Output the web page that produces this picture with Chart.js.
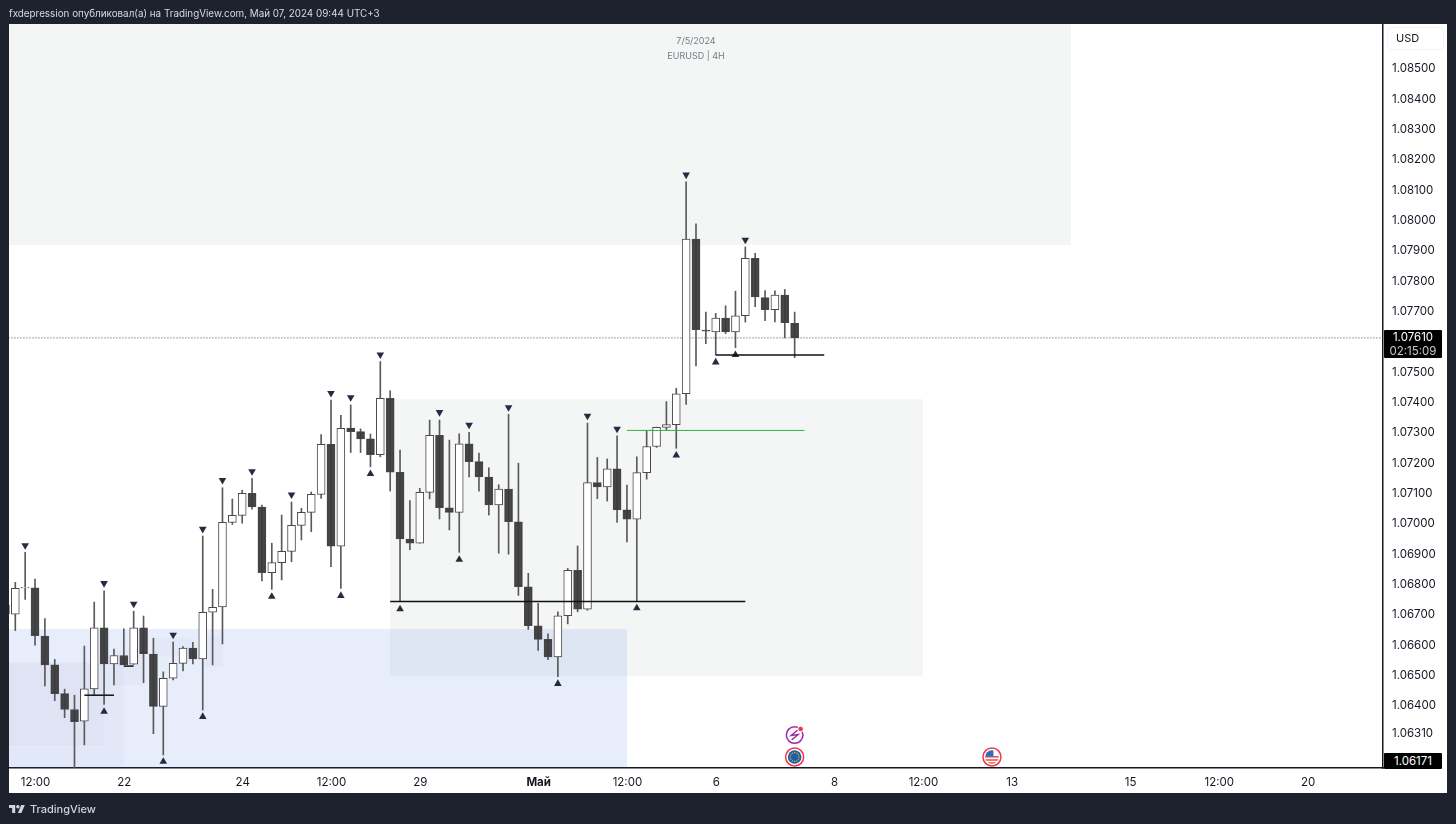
<!DOCTYPE html>
<html>
<head>
<meta charset="utf-8">
<title>EURUSD 4H</title>
<script src="https://cdn.jsdelivr.net/npm/chart.js@4"></script>
<style>
  html, body { margin: 0; padding: 0; background: #1e222d; overflow: hidden; }
  body { width: 1456px; height: 824px; position: relative; font-family: Inter, "Noto Sans", sans-serif; }
  canvas { position: absolute; left: 0; top: 0; }
  .txt { position: absolute; white-space: nowrap; }
  #header { left: 9px; top: 6px; font-size: 9.85px; line-height: 14px; color: #d8dae0; }
  .note { left: 596px; width: 200px; text-align: center; font-size: 9px; line-height: 12px; color: #787b86; }
  #usd { left: 1387px; top: 27px; width: 57px; height: 23px; box-sizing: border-box; padding-left: 8px; border: 1px solid #f0f3fa; border-radius: 4px; font-size: 11px; line-height: 21px; color: #131722; }
  .tag { left: 1384px; width: 58px; background: #000; color: #fff; text-align: center; font-size: 11.5px; border-radius: 1px; }
  #lastTag { top: 330px; height: 28px; line-height: 14px; }
  #lastTag span { color: #c8c8c8; }
  #lowTag { top: 753px; height: 16px; line-height: 16px; }
  #brand { left: 30px; top: 800px; font-size: 11px; font-weight: 500; line-height: 18px; color: #d1d4dc; }
  #logo { position: absolute; left: 9px; top: 803px; }
</style>
</head>
<body>
<canvas id="chart" width="1456" height="824"></canvas>
<div class="txt" id="header">fxdepression опубликовал(а) на TradingView.com, Май 07, 2024 09:44 UTC+3</div>
<div class="txt note" style="top:35px">7/5/2024</div>
<div class="txt note" style="top:50px">EURUSD | 4H</div>
<div class="txt" id="usd">USD</div>
<div class="txt tag" id="lastTag">1.07610<br><span>02:15:09</span></div>
<div class="txt tag" id="lowTag">1.06171</div>
<svg id="logo" width="16" height="12" viewBox="0 0 36 26"><path fill="#d1d4dc" d="M14 22H7V11H0V4h14v18zM28 22h-8l7.5-18h8L28 22z"/><circle fill="#d1d4dc" cx="20" cy="8" r="4"/></svg>
<div class="txt" id="brand">TradingView</div>
<script>
// candles, first one sits at index -1 (cut by the left edge)
const firstIndex = -1;
const opens = [
  1.06700,1.06699,1.06786,1.06786,1.06627,1.06532,1.06437,1.06385,1.06346,1.06453,
  1.06654,1.06535,1.06563,1.06534,1.06654,1.06568,1.06395,1.06488,1.06537,1.06587,
  1.06552,1.06706,1.06723,1.07002,1.07025,1.07098,1.07052,1.06836,1.06869,1.06906,
  1.06992,1.07035,1.07094,1.07259,1.06923,1.07313,1.07301,1.07277,1.07225,1.07411,
  1.07167,1.06947,1.06933,1.07101,1.07289,1.07050,1.07035,1.07261,1.07202,1.07151,
  1.07059,1.07112,1.07004,1.06789,1.06661,1.06616,1.06558,1.06694,1.06844,1.06716,
  1.07133,1.07119,1.07178,1.07043,1.07012,1.07166,1.07252,1.07315,1.07324,1.07426,
  1.07936,1.07636,1.07630,1.07675,1.07630,1.07683,1.07872,1.07743,1.07703,1.07751,
  1.07658
];
const highs = [
  1.06746,1.06804,1.06903,1.06815,1.06685,1.06550,1.06452,1.06432,1.06594,1.06739,
  1.06776,1.06584,1.06651,1.06709,1.06693,1.06620,1.06509,1.06607,1.06592,1.06606,
  1.06957,1.06781,1.07116,1.07079,1.07108,1.07147,1.07059,1.06933,1.07026,1.07069,
  1.07048,1.07102,1.07291,1.07405,1.07355,1.07389,1.07310,1.07293,1.07532,1.07436,
  1.07240,1.07074,1.07114,1.07339,1.07339,1.07273,1.07294,1.07299,1.07230,1.07182,
  1.07126,1.07358,1.07197,1.06834,1.06735,1.06634,1.06707,1.06850,1.06924,1.07329,
  1.07216,1.07211,1.07287,1.07125,1.07218,1.07305,1.07316,1.07400,1.07444,1.08125,
  1.07986,1.07695,1.07691,1.07716,1.07764,1.07910,1.07889,1.07766,1.07765,1.07770,
  1.07695
];
const lows = [
  1.06680,1.06645,1.06748,1.06597,1.06463,1.06414,1.06358,1.06171,1.06268,1.06433,
  1.06402,1.06466,1.06532,1.06534,1.06473,1.06305,1.06235,1.06482,1.06512,1.06535,
  1.06383,1.06532,1.06601,1.06995,1.06999,1.07045,1.06809,1.06781,1.06812,1.06872,
  1.06944,1.06971,1.07081,1.06856,1.06784,1.07232,1.07232,1.07185,1.07218,1.07105,
  1.06740,1.06912,1.06933,1.07079,1.07013,1.06977,1.06903,1.07152,1.07105,1.07026,
  1.06900,1.06897,1.06761,1.06649,1.06580,1.06549,1.06493,1.06667,1.06707,1.06712,
  1.07080,1.07072,1.07002,1.06937,1.06740,1.07144,1.07249,1.07306,1.07246,1.07391,
  1.07518,1.07591,1.07554,1.07624,1.07578,1.07662,1.07713,1.07667,1.07663,1.07610,
  1.07545
];
const closes = [
  1.06729,1.06784,1.06788,1.06628,1.06532,1.06437,1.06385,1.06345,1.06453,1.06654,
  1.06535,1.06563,1.06532,1.06654,1.06569,1.06395,1.06488,1.06537,1.06587,1.06552,
  1.06705,1.06722,1.07002,1.07025,1.07098,1.07053,1.06836,1.06869,1.06906,1.06992,
  1.07035,1.07094,1.07259,1.06923,1.07312,1.07301,1.07277,1.07225,1.07411,1.07167,
  1.06947,1.06933,1.07101,1.07289,1.07050,1.07035,1.07261,1.07202,1.07152,1.07059,
  1.07112,1.07004,1.06790,1.06661,1.06616,1.06558,1.06694,1.06844,1.06716,1.07133,
  1.07119,1.07178,1.07043,1.07012,1.07166,1.07252,1.07315,1.07324,1.07426,1.07936,
  1.07637,1.07632,1.07675,1.07630,1.07683,1.07872,1.07745,1.07703,1.07751,1.07660,
  1.07610
];

// swing markers
const downMarkIdx = [1,9,12,16,19,21,24,28,32,34,37,43,46,50,58,61,68,74];
const downMarkPrice = [1.06926,1.06801,1.06733,1.06631,1.06980,1.07141,1.07170,1.07093,1.07428,1.07414,1.07555,1.07365,1.07323,1.07381,1.07353,1.07310,1.08148,1.07933];
const upMarkIdx = [9,15,19,26,33,36,39,45,55,63,67,71,73];
const upMarkPrice = [1.06378,1.06213,1.06361,1.06757,1.06760,1.07162,1.06716,1.06879,1.06470,1.06719,1.07223,1.07530,1.07554];

// horizontal levels: start index, end index, price
const blackLevels = [[38,74,1.06741],[71,82,1.07554],[7,10,1.06432],[11,12,1.06528]];
const greenLevel = [62,80,1.07305];
const lastPrice = 1.07610;

// shaded zones: start index, end index, top price, bottom price
const grayZones = [[-1,107,1.0870,1.07916],[38,92,1.07408,1.06495]];
const blueZones = [[-1,62,1.06650,1.0610]];
const faintZones = [[-1,11,1.06540,1.0610],[-1,9,1.06540,1.06268],[10,13,1.06580,1.06466],[14,18,1.06620,1.06560],[19,21,1.06625,1.06525]];

// axes
const xTickIdx = [2,11,23,32,41,53,62,71,83,92,101,113,122,131];
const xTickText = ['12:00','22','24','12:00','29','Май','12:00','6','8','12:00','13','15','12:00','20'];
const yTicks = [1.085,1.084,1.083,1.082,1.081,1.080,1.079,1.078,1.077,1.076,1.075,1.074,1.073,1.072,1.071,1.070,1.069,1.068,1.067,1.066,1.065,1.064,1.0631];
const calendarIdx = [79,99];

const dark = 'rgba(58,58,60,0.93)';
const edge = '#4a4a4a';
const idx = opens.map((_, i) => i + firstIndex);

function fillZones(chart, list, color) {
  const { ctx, scales: { x, y } } = chart;
  ctx.fillStyle = color;
  list.forEach(z => {
    const x0 = x.getPixelForValue(z[0]), x1 = x.getPixelForValue(z[1]);
    const y0 = y.getPixelForValue(z[2]), y1 = y.getPixelForValue(z[3]);
    ctx.fillRect(x0, y0, x1 - x0, y1 - y0);
  });
}

const zonesPlugin = {
  id: 'zones',
  beforeDraw(chart) {
    const { ctx, chartArea: a } = chart;
    ctx.fillStyle = '#fff';
    ctx.fillRect(a.left, a.top, 1447 - a.left, 793 - a.top);
  },
  beforeDatasetsDraw(chart) {
    const { ctx, chartArea: a } = chart;
    ctx.save();
    ctx.beginPath();
    ctx.rect(a.left, a.top, a.right - a.left, a.bottom - a.top);
    ctx.clip();
    fillZones(chart, grayZones, '#f4f6f5');
    fillZones(chart, blueZones, 'rgba(45,90,230,0.11)');
    fillZones(chart, faintZones, 'rgba(110,120,135,0.035)');
    ctx.restore();
  }
};

// little event icons on the bottom of the pane
function ring(ctx, x, y, r, color, w) {
  ctx.beginPath();
  ctx.arc(x, y, r, 0, Math.PI * 2);
  ctx.strokeStyle = color;
  ctx.lineWidth = w;
  ctx.stroke();
}
const iconsPlugin = {
  id: 'icons',
  afterDatasetsDraw(chart) {
    const { ctx, chartArea: a, scales: { x } } = chart;
    const ex = x.getPixelForValue(calendarIdx[0]);
    const ux = x.getPixelForValue(calendarIdx[1]);
    const y1 = a.bottom - 33, y2 = a.bottom - 11;
    ctx.save();
    // lightning
    ring(ctx, ex, y1, 8.3, '#9c27b0', 1.5);
    ctx.beginPath();
    ctx.moveTo(ex + 3, y1 - 5); ctx.lineTo(ex - 3.5, y1 + 0.5); ctx.lineTo(ex + 3.5, y1 - 0.5); ctx.lineTo(ex - 3, y1 + 5);
    ctx.strokeStyle = '#9c27b0'; ctx.lineWidth = 1.4; ctx.stroke();
    ctx.beginPath(); ctx.arc(ex + 6, y1 - 6, 2.8, 0, Math.PI * 2); ctx.fillStyle = '#f23645'; ctx.fill();
    ctx.strokeStyle = '#fff'; ctx.lineWidth = 1; ctx.stroke();
    // EU
    ring(ctx, ex, y2, 9, '#f23645', 1.5);
    ctx.beginPath(); ctx.arc(ex, y2, 6.8, 0, Math.PI * 2); ctx.fillStyle = '#1c5fa8'; ctx.fill();
    ctx.fillStyle = '#e0b23a';
    for (let k = 0; k < 12; k++) {
      const t = k * Math.PI / 6;
      ctx.fillRect(ex + Math.cos(t) * 4.4 - 0.6, y2 + Math.sin(t) * 4.4 - 0.6, 1.2, 1.2);
    }
    // US
    ring(ctx, ux, y2, 9, '#f23645', 1.5);
    ctx.beginPath(); ctx.arc(ux, y2, 6.8, 0, Math.PI * 2); ctx.clip();
    ctx.fillStyle = '#fff'; ctx.fillRect(ux - 7, y2 - 7, 14, 14);
    ctx.fillStyle = '#ef5350';
    ctx.fillRect(ux - 7, y2 - 1, 14, 1.6);
    ctx.fillRect(ux - 7, y2 + 2.2, 14, 1.6);
    ctx.fillRect(ux - 7, y2 + 5.2, 14, 1.8);
    ctx.fillStyle = '#2f6fc0';
    ctx.fillRect(ux - 7, y2 - 7, 8.5, 6.5);
    ctx.restore();
  }
};

new Chart(document.getElementById('chart'), {
  type: 'bar',
  plugins: [zonesPlugin, iconsPlugin],
  data: {
    datasets: [
      {
        data: [{ x: -1, y: lastPrice }, { x: 139, y: lastPrice }],
        type: 'line', borderColor: '#444', borderWidth: 1, borderDash: [1, 2], pointRadius: 0, order: 5
      },
      {
        data: idx.map((v, i) => ({ x: v, y: [lows[i], highs[i]] })),
        backgroundColor: '#5a5a5a', barThickness: 1, order: 4
      },
      {
        data: idx.map((v, i) => ({ x: v, y: [opens[i], closes[i]] })),
        backgroundColor: closes.map((c, i) => c < opens[i] ? dark : '#fff'),
        borderColor: edge, borderWidth: 1, borderSkipped: false, barThickness: 8, order: 3
      },
      {
        data: downMarkIdx.map((v, i) => ({ x: v, y: downMarkPrice[i] })),
        type: 'scatter', pointStyle: 'triangle', rotation: 180, pointRadius: 4.4,
        backgroundColor: '#252c40', borderWidth: 0, order: 2
      },
      {
        data: upMarkIdx.map((v, i) => ({ x: v, y: upMarkPrice[i] })),
        type: 'scatter', pointStyle: 'triangle', pointRadius: 4.4,
        backgroundColor: '#252c40', borderWidth: 0, order: 2
      },
      ...blackLevels.map(l => ({
        data: [{ x: l[0], y: l[2] }, { x: l[1], y: l[2] }],
        type: 'line', borderColor: '#111', borderWidth: 1.5, pointRadius: 0, order: 1
      })),
      {
        data: [{ x: greenLevel[0], y: greenLevel[2] }, { x: greenLevel[1], y: greenLevel[2] }],
        type: 'line', borderColor: '#36b03c', borderWidth: 1, pointRadius: 0, order: 1
      }
    ]
  },
  options: {
    responsive: false,
    animation: false,
    grouped: false,
    layout: { padding: { left: 9, right: 9, top: 24, bottom: 31 } },
    plugins: { legend: { display: false }, tooltip: { enabled: false } },
    scales: {
      x: {
        type: 'linear',
        offset: false,
        min: -0.639,
        max: 138.64,
        grid: { display: false, drawTicks: false },
        border: { display: true, color: '#131722', width: 1.5 },
        afterBuildTicks: s => { s.ticks = xTickIdx.map(v => ({ value: v })); },
        afterFit: s => { s.height = 25; },
        ticks: {
          autoSkip: false,
          maxRotation: 0,
          padding: 8,
          labelOffset: 0.5,
          color: '#131722',
          font: c => ({ family: 'Inter', size: 11.5, weight: c.tick && c.tick.value === 53 ? '700' : '400' }),
          callback: v => xTickText[xTickIdx.indexOf(v)]
        }
      },
      y: {
        position: 'right',
        min: 1.06192,
        max: 1.08645,
        grid: { display: false, drawTicks: false },
        border: { display: true, color: '#131722', width: 1.5 },
        afterBuildTicks: s => { s.ticks = yTicks.map(v => ({ value: v })); },
        afterFit: s => { s.width = 64; },
        ticks: {
          autoSkip: false,
          padding: 9,
          labelOffset: 1,
          color: '#131722',
          font: { family: 'Inter', size: 11.5 },
          callback: v => v.toFixed(5)
        }
      }
    }
  }
});
</script>
</body>
</html>
